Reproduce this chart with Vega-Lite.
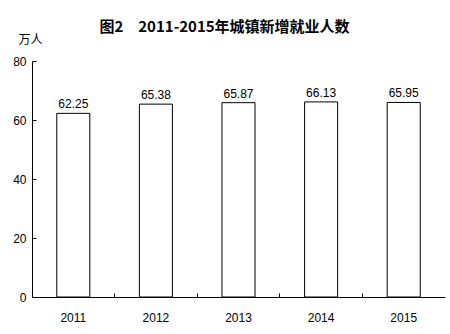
{
  "$schema": "https://vega.github.io/schema/vega-lite/v6.json",
  "width": 413,
  "height": 236,
  "autosize": "none",
  "padding": {"left": 32, "top": 61, "right": 5, "bottom": 37},
  "background": "white",
  "title": {
    "text": "图2　2011-2015年城镇新增就业人数",
    "font": "Noto Sans CJK SC",
    "fontSize": 15,
    "fontWeight": "bold",
    "color": "black",
    "anchor": "middle",
    "dx": -14,
    "offset": -2
  },
  "config": {
    "view": {"stroke": null},
    "axis": {"labelFont": "Liberation Sans", "labelFontSize": 12, "labelColor": "black", "domainColor": "black", "tickColor": "black", "grid": false}
  },
  "data": {
    "values": [
      {"year": "2011", "value": 62.25},
      {"year": "2012", "value": 65.38},
      {"year": "2013", "value": 65.87},
      {"year": "2014", "value": 66.13},
      {"year": "2015", "value": 65.95}
    ]
  },
  "encoding": {
    "x": {
      "field": "year",
      "type": "nominal",
      "scale": {"paddingInner": 0, "paddingOuter": 0},
      "axis": {"title": null, "labelAngle": 0, "bandPosition": 0, "tickSize": -4, "labelPadding": 19, "domainWidth": 1}
    },
    "y": {
      "field": "value",
      "type": "quantitative",
      "scale": {"domain": [0, 80]},
      "axis": {
        "values": [0, 20, 40, 60, 80],
        "tickSize": -4,
        "labelPadding": 10,
        "title": "万人",
        "titleFont": "Noto Sans CJK SC",
        "titleFontSize": 12,
        "titleFontWeight": "normal",
        "titleColor": "black",
        "titleAngle": 0,
        "titleAlign": "center",
        "titleBaseline": "middle",
        "titleX": -2,
        "titleY": -22
      }
    }
  },
  "layer": [
    {
      "mark": {"type": "bar", "fill": "white", "stroke": "black", "strokeWidth": 1, "width": {"band": 0.4}}
    },
    {
      "mark": {"type": "text", "baseline": "bottom", "dy": -2, "font": "Liberation Sans", "fontSize": 12, "color": "black"},
      "encoding": {"text": {"field": "value", "type": "quantitative", "format": ".2f"}}
    }
  ]
}
